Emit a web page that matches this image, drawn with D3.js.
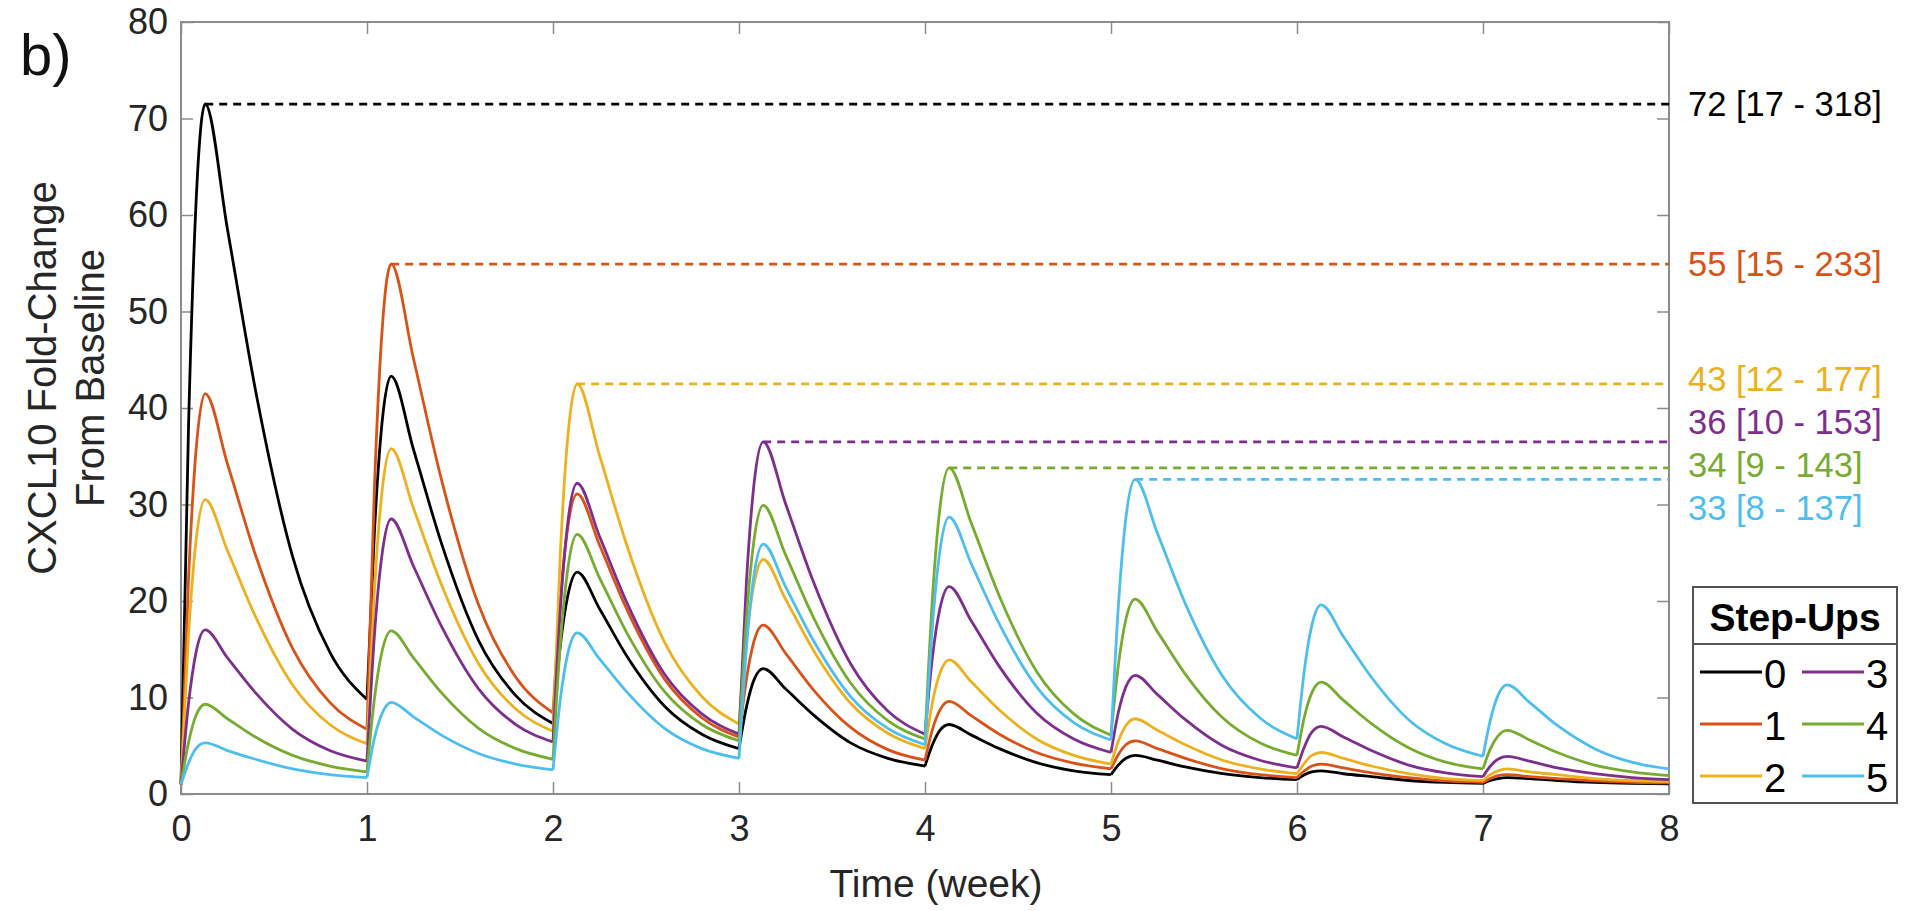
<!DOCTYPE html>
<html>
<head>
<meta charset="utf-8">
<script src="https://cdn.jsdelivr.net/npm/d3@7"></script>
<style>
  body { margin: 0; background: #fff; }
  text { font-family: Arial, "Liberation Sans", Helvetica, sans-serif; }
</style>
</head>
<body>
<svg id="chart" width="1908" height="911"></svg>
<script>
// sample times (week) shared by all series
const times = [
  0, 0.04, 0.08, 0.13, 0.25, 0.4, 0.6, 0.8,
  1, 1.04, 1.08, 1.13, 1.25, 1.4, 1.6, 1.8,
  2, 2.04, 2.08, 2.13, 2.25, 2.4, 2.6, 2.8,
  3, 3.04, 3.08, 3.13, 3.25, 3.4, 3.6, 3.8,
  4, 4.04, 4.08, 4.13, 4.25, 4.4, 4.6, 4.8,
  5, 5.04, 5.08, 5.13, 5.25, 5.4, 5.6, 5.8,
  6, 6.04, 6.08, 6.13, 6.25, 6.4, 6.6, 6.8,
  7, 7.04, 7.08, 7.13, 7.25, 7.4, 7.6, 7.8,
  8
];

// CXCL10 fold-change, one list per number of step-ups
const stepUps0 = [
  1, 37.7, 60.9, 71.5, 58.5, 41.9, 24.6, 14.7,
  9.8, 27.2, 38.3, 43.3, 35.7, 26.0, 15.9, 10.2,
  7.3, 15.5, 20.6, 23.0, 19.2, 14.2, 9.1, 6.2,
  4.7, 9.0, 11.8, 13.0, 10.9, 8.2, 5.3, 3.7,
  2.9, 5.1, 6.6, 7.2, 6.1, 4.7, 3.25, 2.4,
  2.0, 3.0, 3.7, 4.0, 3.5, 2.8, 2.1, 1.7,
  1.5, 2.0, 2.3, 2.4, 2.1, 1.8, 1.4, 1.2,
  1.1, 1.4, 1.6, 1.7, 1.6, 1.4, 1.2, 1.1,
  1.05
];
const stepUps1 = [
  1, 22.1, 35.4, 41.5, 34.2, 24.8, 15.1, 9.5,
  6.7, 31.8, 47.7, 54.9, 45.1, 32.6, 19.6, 12.1,
  8.4, 20.2, 27.7, 31.1, 25.8, 19.0, 11.9, 7.9,
  5.9, 11.9, 15.8, 17.5, 14.6, 10.8, 6.9, 4.6,
  3.5, 6.7, 8.7, 9.6, 8.1, 6.2, 4.3, 3.2,
  2.6, 4.1, 5.1, 5.5, 4.7, 3.7, 2.6, 2.0,
  1.7, 2.4, 2.9, 3.1, 2.7, 2.2, 1.7, 1.35,
  1.2, 1.6, 1.9, 2.0, 1.8, 1.6, 1.35, 1.2,
  1.15
];
const stepUps2 = [
  1, 16.3, 26.1, 30.5, 25.2, 18.4, 11.3, 7.2,
  5.2, 21.1, 31.2, 35.8, 29.6, 21.7, 13.5, 8.8,
  6.5, 25.2, 37.1, 42.5, 35.1, 25.6, 15.7, 10.1,
  7.25, 16.1, 21.7, 24.3, 20.2, 14.9, 9.4, 6.3,
  4.7, 9.5, 12.5, 13.9, 11.6, 8.7, 5.7, 4.0,
  3.1, 5.5, 7.1, 7.8, 6.6, 5.1, 3.5, 2.6,
  2.1, 3.2, 4.0, 4.3, 3.7, 2.9, 2.1, 1.6,
  1.4, 2.0, 2.4, 2.6, 2.3, 2.0, 1.6, 1.4,
  1.3
];
const stepUps3 = [
  1, 9.3, 14.6, 17.0, 14.1, 10.5, 6.7, 4.5,
  3.4, 16.5, 24.7, 28.5, 23.6, 17.4, 10.9, 7.2,
  5.4, 19.3, 28.2, 32.2, 26.7, 19.7, 12.4, 8.3,
  6.2, 22.0, 32.0, 36.5, 30.1, 22.0, 13.5, 8.6,
  6.2, 14.2, 19.2, 21.5, 17.9, 13.2, 8.4, 5.7,
  4.3, 8.5, 11.1, 12.3, 10.3, 7.7, 5.0, 3.5,
  2.7, 4.9, 6.4, 7.0, 5.9, 4.5, 3.0, 2.2,
  1.8, 2.9, 3.6, 3.9, 3.4, 2.7, 2.1, 1.7,
  1.5
];
const stepUps4 = [
  1, 5.3, 8.1, 9.3, 7.8, 5.9, 4.0, 2.9,
  2.3, 9.9, 14.7, 16.9, 14.1, 10.5, 6.8, 4.7,
  3.6, 15.7, 23.4, 26.9, 22.4, 16.6, 10.6, 7.2,
  5.5, 18.2, 26.2, 29.9, 24.8, 18.3, 11.5, 7.6,
  5.7, 20.3, 29.6, 33.8, 28.0, 20.5, 12.7, 8.3,
  6.1, 13.4, 18.1, 20.2, 16.8, 12.4, 7.9, 5.3,
  4.0, 8.0, 10.5, 11.6, 9.7, 7.3, 4.8, 3.3,
  2.6, 4.7, 6.0, 6.6, 5.6, 4.3, 3.0, 2.3,
  1.9
];
const stepUps5 = [
  1, 3.2, 4.7, 5.3, 4.5, 3.6, 2.6, 2.0,
  1.7, 5.8, 8.3, 9.5, 8.0, 6.1, 4.2, 3.1,
  2.5, 9.9, 14.6, 16.7, 14.0, 10.5, 6.8, 4.7,
  3.7, 15.2, 22.6, 25.9, 21.5, 15.9, 10.1, 6.8,
  5.1, 17.4, 25.2, 28.7, 23.8, 17.6, 11.1, 7.4,
  5.6, 19.6, 28.6, 32.6, 27.0, 19.7, 12.2, 7.9,
  5.7, 12.9, 17.5, 19.6, 16.3, 12.1, 7.7, 5.2,
  3.9, 7.7, 10.2, 11.3, 9.5, 7.1, 4.7, 3.3,
  2.6
];

const seriesNames = ["0", "1", "2", "3", "4", "5"];
const peakLabels = ["72 [17 - 318]", "55 [15 - 233]", "43 [12 - 177]", "36 [10 - 153]", "34 [9 - 143]", "33 [8 - 137]"];
const xTicks = [0, 1, 2, 3, 4, 5, 6, 7, 8];
const yTicks = [0, 10, 20, 30, 40, 50, 60, 70, 80];

const colors = ["#000000", "#D95319", "#EDB120", "#7E2F8E", "#77AC30", "#4DBEEE"];
const allValues = [stepUps0, stepUps1, stepUps2, stepUps3, stepUps4, stepUps5];

const series = seriesNames.map((name, i) => ({
  name,
  color: colors[i],
  label: peakLabels[i],
  points: times.map((t, j) => ({ t, v: allValues[i][j] }))
}));

const margin = { left: 181, right: 1669, top: 22, bottom: 794 };
const axisGrey = "#8c8c8c";
const textColor = "#262626";
const tickLen = 12;

const svg = d3.select("#chart");

const x = d3.scaleLinear().domain([0, 8]).range([margin.left, margin.right]);
const y = d3.scaleLinear().domain([0, 80]).range([margin.bottom, margin.top]);

// axes (MATLAB style: ticks point inward, box all round)
const styleAxis = g => {
  g.select(".domain").remove();
  g.selectAll(".tick line").attr("stroke", axisGrey).attr("stroke-width", 1.5);
  g.selectAll(".tick text").attr("fill", textColor).attr("font-size", 36);
};

svg.append("g")
  .attr("transform", `translate(0,${margin.bottom})`)
  .call(d3.axisBottom(x).tickValues(xTicks).tickSizeInner(-tickLen).tickSizeOuter(0).tickPadding(21))
  .call(styleAxis);

svg.append("g")
  .attr("transform", `translate(0,${margin.top})`)
  .call(d3.axisTop(x).tickValues(xTicks).tickSizeInner(-tickLen).tickSizeOuter(0).tickFormat(""))
  .call(styleAxis);

svg.append("g")
  .attr("transform", `translate(${margin.left},0)`)
  .call(d3.axisLeft(y).tickValues(yTicks).tickSizeInner(-tickLen).tickSizeOuter(0).tickPadding(13))
  .call(styleAxis);

svg.append("g")
  .attr("transform", `translate(${margin.right},0)`)
  .call(d3.axisRight(y).tickValues(yTicks).tickSizeInner(-tickLen).tickSizeOuter(0).tickFormat(""))
  .call(styleAxis);

svg.append("rect")
  .attr("x", margin.left)
  .attr("y", margin.top)
  .attr("width", margin.right - margin.left)
  .attr("height", margin.bottom - margin.top)
  .attr("fill", "none")
  .attr("stroke", axisGrey)
  .attr("stroke-width", 2);

// curves: each weekly dose drawn as its own smooth piece so the trough stays sharp
const lineGen = d3.line()
  .x(d => x(d.t))
  .y(d => y(d.v))
  .curve(d3.curveMonotoneX);

const plotArea = svg.append("g");
series.forEach(s => {
  const pieces = [];
  for (let w = 0; w < 8; w++) {
    pieces.push(lineGen(s.points.filter(p => p.t >= w && p.t <= w + 1)));
  }
  plotArea.append("path")
    .attr("d", pieces.join(""))
    .attr("fill", "none")
    .attr("stroke", s.color)
    .attr("stroke-width", 2.8)
    .attr("stroke-linejoin", "round");
});

// dashed line from each series' maximum to the right edge
series.forEach(s => {
  const peak = s.points.reduce((a, b) => (b.v > a.v ? b : a));
  s.peak = peak;
  plotArea.append("line")
    .attr("x1", x(peak.t))
    .attr("x2", x(8))
    .attr("y1", y(peak.v))
    .attr("y2", y(peak.v))
    .attr("stroke", s.color)
    .attr("stroke-width", 2.8)
    .attr("stroke-dasharray", "8,6");
});

// right-hand labels, nudged apart when they would overlap
const labelGap = 43;
let clusters = series
  .map(s => ({ s, y0: y(s.peak.v) }))
  .sort((a, b) => a.y0 - b.y0)
  .map(d => ({ items: [d], center: d.y0 }));
let merged = true;
while (merged) {
  merged = false;
  for (let i = 0; i < clusters.length - 1; i++) {
    const a = clusters[i], b = clusters[i + 1];
    const aBottom = a.center + (a.items.length - 1) * labelGap / 2;
    const bTop = b.center - (b.items.length - 1) * labelGap / 2;
    if (bTop - aBottom < labelGap) {
      const items = a.items.concat(b.items);
      clusters.splice(i, 2, { items, center: d3.mean(items, d => d.y0) });
      merged = true;
      break;
    }
  }
}
clusters.forEach(c => {
  c.items.forEach((d, i) => {
    svg.append("text")
      .attr("x", margin.right + 19)
      .attr("y", c.center - (c.items.length - 1) * labelGap / 2 + i * labelGap)
      .attr("dy", "0.35em")
      .attr("font-size", 34.5)
      .attr("fill", d.s.color)
      .text(d.s.label);
  });
});

// axis titles
svg.append("text")
  .attr("x", (margin.left + margin.right) / 2 + 11)
  .attr("y", 883)
  .attr("dy", "0.35em")
  .attr("text-anchor", "middle")
  .attr("font-size", 39)
  .attr("fill", textColor)
  .text("Time (week)");

const yTitle = svg.append("text")
  .attr("transform", `translate(0,378) rotate(-90)`)
  .attr("text-anchor", "middle")
  .attr("font-size", 40)
  .attr("fill", textColor);
yTitle.append("tspan").attr("x", 0).attr("y", 42).attr("dy", "0.35em").text("CXCL10 Fold-Change");
yTitle.append("tspan").attr("x", 0).attr("y", 90).attr("dy", "0.35em").text("From Baseline");

svg.append("text")
  .attr("x", 20)
  .attr("y", 55)
  .attr("dy", "0.35em")
  .attr("font-size", 58)
  .attr("fill", "#111")
  .text("b)");

// legend
const legend = { x: 1693, y: 587, w: 204, h: 216, titleH: 57 };
const lg = svg.append("g");
lg.append("rect")
  .attr("x", legend.x).attr("y", legend.y)
  .attr("width", legend.w).attr("height", legend.h)
  .attr("fill", "#fff").attr("stroke", "#555").attr("stroke-width", 2);
lg.append("line")
  .attr("x1", legend.x).attr("x2", legend.x + legend.w)
  .attr("y1", legend.y + legend.titleH).attr("y2", legend.y + legend.titleH)
  .attr("stroke", "#555").attr("stroke-width", 2);
lg.append("text")
  .attr("x", legend.x + legend.w / 2)
  .attr("y", legend.y + legend.titleH / 2 + 2)
  .attr("dy", "0.35em")
  .attr("text-anchor", "middle")
  .attr("font-size", 39)
  .attr("font-weight", "bold")
  .attr("fill", "#000")
  .text("Step-Ups");

series.forEach((s, i) => {
  const col = Math.floor(i / 3), row = i % 3;
  const ix = legend.x + 7 + col * 102;
  const iy = legend.y + 85 + row * 52;
  lg.append("line")
    .attr("x1", ix).attr("x2", ix + 62)
    .attr("y1", iy).attr("y2", iy)
    .attr("stroke", s.color).attr("stroke-width", 3);
  lg.append("text")
    .attr("x", ix + 64)
    .attr("y", iy + 2)
    .attr("dy", "0.35em")
    .attr("font-size", 40)
    .attr("fill", "#000")
    .text(s.name);
});
</script>
</body>
</html>
